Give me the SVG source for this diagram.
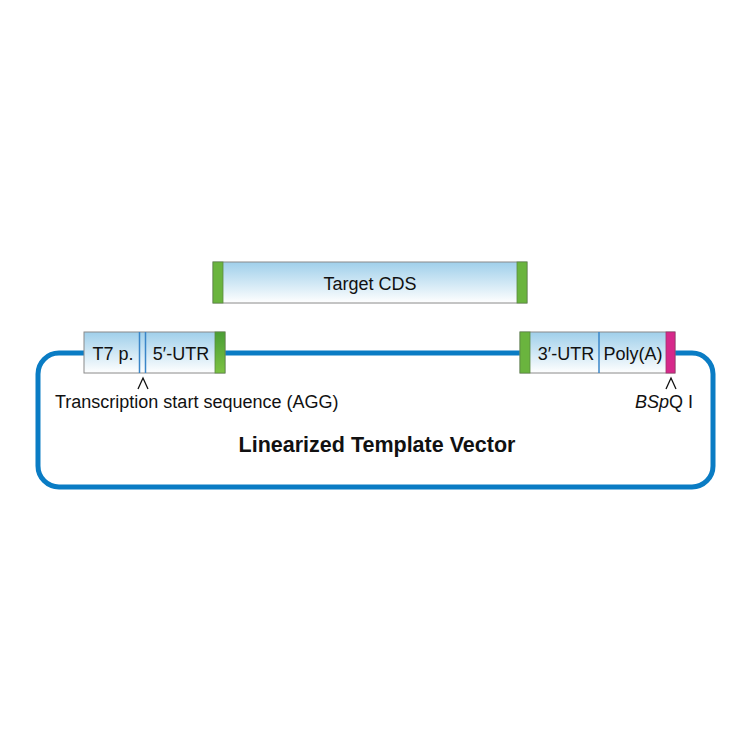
<svg xmlns="http://www.w3.org/2000/svg" width="750" height="750" viewBox="0 0 750 750">
<defs>
<linearGradient id="g" x1="0" y1="0" x2="0" y2="1">
<stop offset="0" stop-color="#9fcfea"/>
<stop offset="1" stop-color="#ffffff"/>
</linearGradient>
<linearGradient id="gg" x1="0" y1="0" x2="0" y2="1">
<stop offset="0" stop-color="#4a9e35"/>
<stop offset="1" stop-color="#7cc243"/>
</linearGradient>
<style>
.box{fill:url(#g);stroke:#8a8a8a;stroke-width:1}
.green{fill:#6ab43e;stroke:#5a8a40;stroke-width:0.8}
.mag{fill:#d6288a;stroke:#a0306a;stroke-width:0.8}
.div{stroke:#3a86c8;stroke-width:1.5}
.t{font-family:"Liberation Sans",Arial,sans-serif;font-size:18px;fill:#111}
.title{font-family:"Liberation Sans",Arial,sans-serif;font-size:21.5px;font-weight:bold;fill:#111}
.caret{fill:none;stroke:#111;stroke-width:1.3}
</style>
</defs>
<rect width="750" height="750" fill="#fff"/>
<g id="connectors">
<rect x="38" y="353" width="675" height="134" rx="21" ry="21" fill="none" stroke="#0a7cc4" stroke-width="5"/>
</g>
<g id="target-cds">
<rect class="box" x="213" y="262" width="314" height="41"/>
<rect class="green" x="213" y="262" width="10" height="41"/>
<rect class="green" x="517" y="262" width="10" height="41"/>
<text class="t" x="370" y="290" text-anchor="middle" font-size="19.5">Target CDS</text>
</g>
<g id="left-module">
<rect class="box" x="84" y="332" width="141" height="41"/>
<line class="div" x1="139.5" y1="332" x2="139.5" y2="373"/>
<line class="div" x1="145.5" y1="332" x2="145.5" y2="373" stroke-width="1"/>
<rect x="215" y="332" width="10" height="41" fill="url(#gg)" stroke="#5a8a40" stroke-width="0.8"/>
<text class="t" x="113" y="360" text-anchor="middle">T7 p.</text>
<text class="t" x="181" y="360" text-anchor="middle">5′-UTR</text>
<polyline class="caret" points="138,389 143,378 148,389"/>
<text class="t" x="55" y="408" font-size="19">Transcription start sequence (AGG)</text>
</g>
<g id="right-module">
<rect class="box" x="520" y="332" width="155" height="41"/>
<line class="div" x1="599" y1="332" x2="599" y2="373" stroke-width="1"/>
<rect class="green" x="520" y="332" width="10" height="41"/>
<rect class="mag" x="666" y="332" width="9" height="41"/>
<text class="t" x="566" y="360" text-anchor="middle">3′-UTR</text>
<text class="t" x="633" y="360" text-anchor="middle">Poly(A)</text>
<polyline class="caret" points="666,389 671,378 676,389"/>
<text class="t" x="664" y="408" text-anchor="middle" font-size="19"><tspan font-style="italic">BSp</tspan>Q I</text>
</g>
<g id="title">
<text class="title" x="377" y="452" text-anchor="middle">Linearized Template Vector</text>
</g>
</svg>
